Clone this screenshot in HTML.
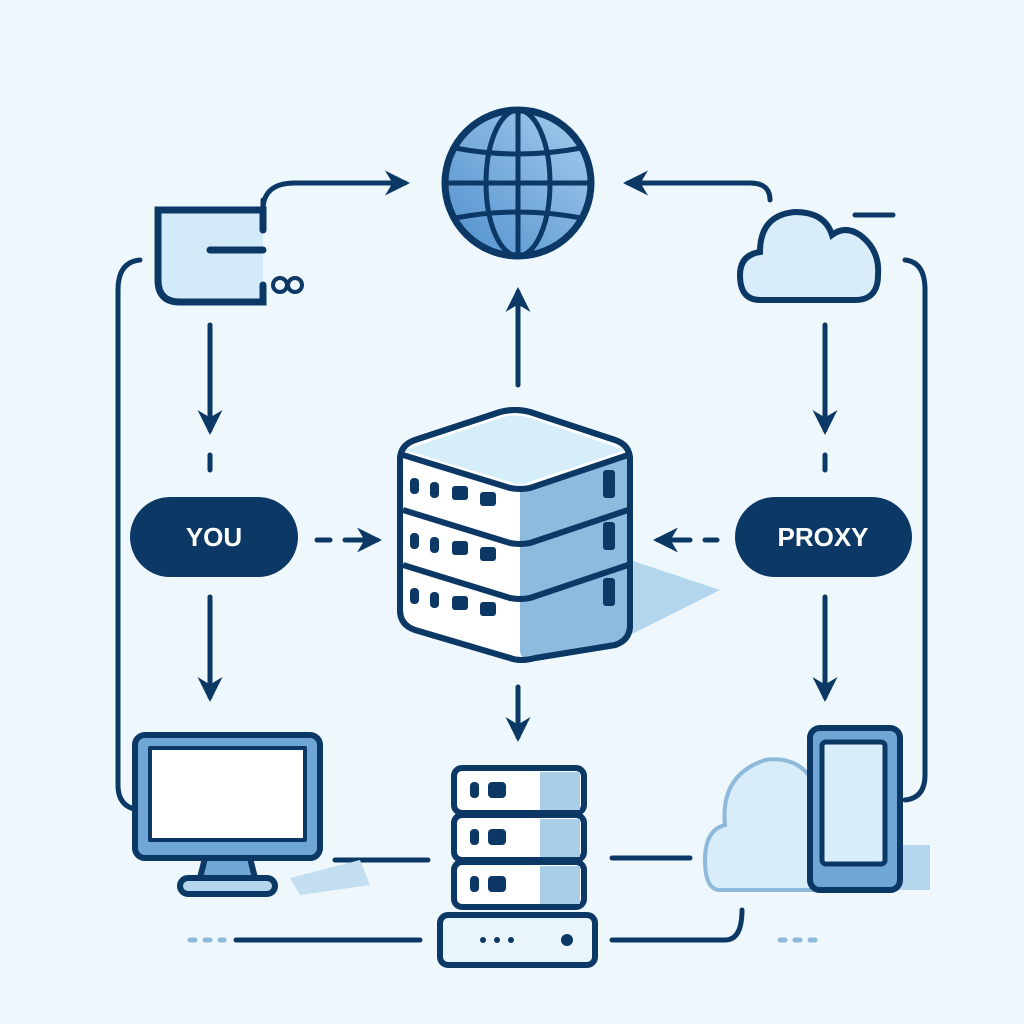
<!DOCTYPE html>
<html><head><style>body{margin:0;background:#eef8fc}svg{display:block}</style></head><body>
<svg width="1024" height="1024" viewBox="0 0 1024 1024" xmlns="http://www.w3.org/2000/svg">
<rect width="1024" height="1024" fill="#eef8fc"/>
<defs>
<marker id="ah" viewBox="0 0 10 10" refX="8" refY="5" markerWidth="5" markerHeight="5" orient="auto"><path d="M0,0 L10,5 L0,10 L3,5 Z" fill="#0c3866"/></marker>
<linearGradient id="gg" x1="0" y1="1" x2="1" y2="0"><stop offset="0" stop-color="#4f8fcc"/><stop offset="1" stop-color="#a6cdee"/></linearGradient>
</defs>
<g fill="none" stroke="#0c3866" stroke-width="5" stroke-linecap="round">
<circle cx="518" cy="183" r="73" fill="url(#gg)" stroke-width="7"/>
<ellipse cx="518" cy="183" rx="32" ry="73"/>
<line x1="518" y1="110" x2="518" y2="256"/>
<line x1="446" y1="183" x2="590" y2="183"/>
<path d="M455,148 Q518,160 581,148"/><path d="M455,218 Q518,206 581,218"/>
<path d="M263,200 V210 Q263,183 295,183 H405" marker-end="url(#ah)"/>
<path d="M770,200 Q770,183 750,183 H628" marker-end="url(#ah)"/>
<path d="M140,260 Q118,262 118,290 V785 Q118,808 140,810"/>
<path d="M905,260 Q925,262 925,290 V775 Q925,798 905,800"/>
<line x1="855" y1="215" x2="893" y2="215"/>
<path d="M210,325 V430" marker-end="url(#ah)"/><line x1="210" y1="455" x2="210" y2="470"/>
<path d="M825,325 V430" marker-end="url(#ah)"/><line x1="825" y1="455" x2="825" y2="470"/>
<path d="M518,385 V292" marker-end="url(#ah)"/>
<path d="M210,597 V697" marker-end="url(#ah)"/>
<path d="M825,597 V697" marker-end="url(#ah)"/>
<path d="M518,687 V737" marker-end="url(#ah)"/>
<line x1="317" y1="540" x2="330" y2="540"/><path d="M345,540 H377" marker-end="url(#ah)"/>
<line x1="717" y1="540" x2="705" y2="540"/><path d="M690,540 H658" marker-end="url(#ah)"/>
<line x1="335" y1="860" x2="428" y2="860"/>
<line x1="612" y1="858" x2="690" y2="858"/>
<line x1="236" y1="940" x2="420" y2="940"/>
<path d="M612,940 H725 Q742,940 742,910"/>
</g>
<g stroke="#8fb9db" stroke-width="5" stroke-linecap="round">
<line x1="190" y1="940" x2="195" y2="940"/><line x1="205" y1="940" x2="210" y2="940"/><line x1="220" y1="940" x2="224" y2="940"/>
<line x1="780" y1="940" x2="785" y2="940"/><line x1="795" y1="940" x2="800" y2="940"/><line x1="810" y1="940" x2="815" y2="940"/>
</g>
<g stroke="#0c3866" stroke-width="7" stroke-linecap="round" fill="none">
<path d="M263,230 V210 H158 V280 Q158,302 180,302 H263 V285" fill="#d3eaf8"/>
<line x1="210" y1="250" x2="263" y2="250"/>
<circle cx="280" cy="285" r="7" stroke-width="4"/><circle cx="295" cy="285" r="7" stroke-width="4"/>
</g>
<path d="M760,300 Q740,300 740,275 Q740,255 760,252 Q760,215 795,212 Q825,212 832,235 Q845,225 860,235 Q880,250 878,275 Q878,300 855,300 Z" fill="#d8ecfa" stroke="#0c3866" stroke-width="6"/>
<rect x="130" y="497" width="168" height="80" rx="40" fill="#0c3866"/>
<text x="214" y="546" text-anchor="middle" font-family="Liberation Sans,sans-serif" font-weight="bold" font-size="26" fill="#fff">YOU</text>
<rect x="735" y="497" width="177" height="80" rx="40" fill="#0c3866"/>
<text x="823" y="546" text-anchor="middle" font-family="Liberation Sans,sans-serif" font-weight="bold" font-size="26" fill="#fff">PROXY</text>
<path d="M630,560 L720,590 L600,650 L520,640 Z" fill="#b3d6ec"/>
<g stroke="#0c3866" stroke-width="6" fill="#fff" stroke-linejoin="round">
<path d="M400,460 Q400,445 415,440 L500,412 Q515,408 530,412 L615,440 Q630,445 630,460 L630,625 Q630,640 615,645 L535,658 Q520,662 510,658 L415,630 Q400,625 400,610 Z"/>
<path d="M520,488 L630,455 L630,625 Q630,640 615,645 L535,658 Q520,662 520,650 Z" fill="#8dbbe0" stroke="none"/>
<path d="M405,450 L500,418 Q515,413 530,418 L625,450 L520,485 Z" fill="#d6edfa" stroke="none"/>
<path d="M400,460 Q400,445 415,440 L500,412 Q515,408 530,412 L615,440 Q630,445 630,460 L630,625 Q630,640 615,645 L535,658 Q520,662 510,658 L415,630 Q400,625 400,610 Z" fill="none"/>
<path d="M403,455 L510,488 Q520,490 530,488 L628,455" fill="none"/>
<path d="M403,510 L510,543 Q520,545 530,543 L628,510" fill="none"/>
<path d="M403,565 L510,598 Q520,600 530,598 L628,565" fill="none"/>
</g>
<g fill="#0c3866">
<rect x="410" y="478" width="9" height="16" rx="4"/><rect x="430" y="482" width="9" height="16" rx="4"/><rect x="452" y="486" width="16" height="14" rx="3"/><rect x="480" y="492" width="16" height="14" rx="3"/>
<rect x="410" y="533" width="9" height="16" rx="4"/><rect x="430" y="537" width="9" height="16" rx="4"/><rect x="452" y="541" width="16" height="14" rx="3"/><rect x="480" y="547" width="16" height="14" rx="3"/>
<rect x="410" y="588" width="9" height="16" rx="4"/><rect x="430" y="592" width="9" height="16" rx="4"/><rect x="452" y="596" width="16" height="14" rx="3"/><rect x="480" y="602" width="16" height="14" rx="3"/>
<rect x="603" y="470" width="12" height="28" rx="3"/><rect x="603" y="522" width="12" height="28" rx="3"/><rect x="603" y="578" width="12" height="28" rx="3"/>
</g>
<path d="M290,878 L360,860 L370,885 L300,895 Z" fill="#c3def0"/>
<g stroke="#0c3866" stroke-width="6" stroke-linejoin="round">
<rect x="135" y="735" width="185" height="123" rx="10" fill="#6fa6d6"/>
<rect x="150" y="748" width="155" height="92" fill="#fff" stroke-width="4"/>
<path d="M205,858 L200,878 H255 L250,858 Z" fill="#6fa6d6"/>
<rect x="180" y="878" width="95" height="16" rx="8" fill="#b5d6ec"/>
</g>
<g stroke="#0c3866" stroke-width="6" fill="#fff">
<rect x="454" y="768" width="130" height="45" rx="8"/>
<rect x="454" y="815" width="130" height="45" rx="8"/>
<rect x="454" y="862" width="130" height="45" rx="8"/>
<rect x="440" y="915" width="155" height="50" rx="8" fill="#eaf4fb"/>
</g>
<g fill="#a9cfe8"><rect x="540" y="772" width="40" height="38"/><rect x="540" y="819" width="40" height="38"/><rect x="540" y="866" width="40" height="38"/></g>
<g fill="#0c3866">
<rect x="470" y="782" width="9" height="16" rx="4"/><rect x="488" y="782" width="18" height="16" rx="4"/>
<rect x="470" y="829" width="9" height="16" rx="4"/><rect x="488" y="829" width="18" height="16" rx="4"/>
<rect x="470" y="876" width="9" height="16" rx="4"/><rect x="488" y="876" width="18" height="16" rx="4"/>
<circle cx="567" cy="940" r="6"/><circle cx="483" cy="940" r="3"/><circle cx="497" cy="940" r="3"/><circle cx="511" cy="940" r="3"/>
</g>
<path d="M720,890 Q705,890 705,860 Q705,830 725,825 Q720,775 765,760 Q800,755 815,785 L815,890 Z" fill="#d8ecfa" stroke="#8fb9db" stroke-width="4"/>
<rect x="890" y="845" width="40" height="45" fill="#b5d6ec"/>
<rect x="810" y="728" width="90" height="162" rx="10" fill="#6fa6d6" stroke="#0c3866" stroke-width="6"/>
<rect x="822" y="742" width="63" height="122" rx="4" fill="#d8ecfa" stroke="#0c3866" stroke-width="5"/>
</svg>
</body></html>
